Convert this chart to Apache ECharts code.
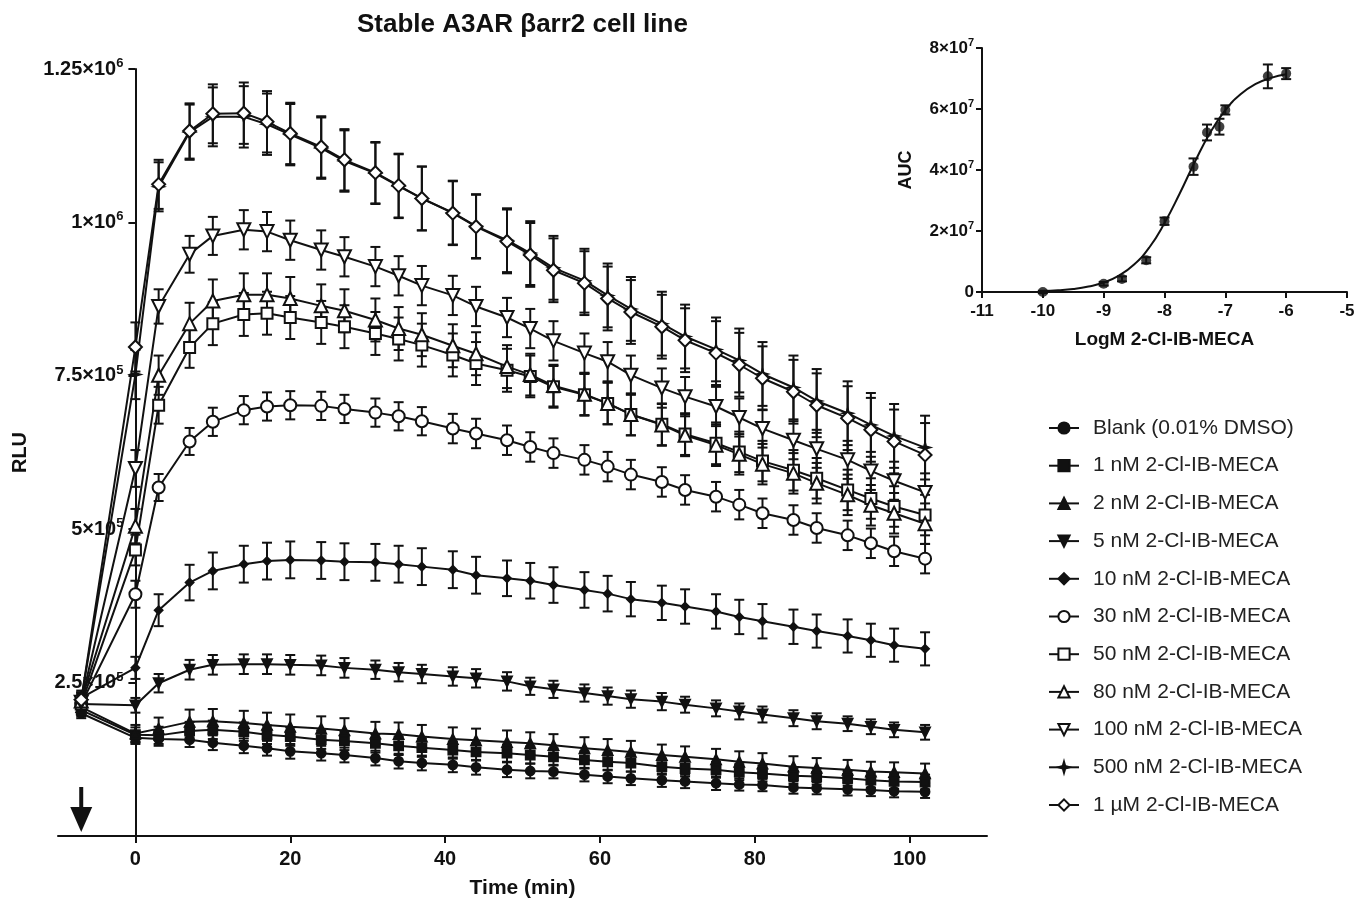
<!DOCTYPE html>
<html><head><meta charset="utf-8">
<script src="https://cdn.jsdelivr.net/npm/echarts@6/dist/echarts.min.js"></script>
<style>html,body{margin:0;padding:0;background:#fff}#c{width:1357px;height:903px}</style>
</head><body><div id="c"></div>
<script>
// ---------- Main kinetic chart data (RLU) ----------
const times = [-7, 0, 3, 7, 10, 14, 17, 20, 24, 27, 31, 34, 37, 41, 44, 48, 51, 54, 58, 61, 64, 68, 71, 75, 78, 81, 85, 88, 92, 95, 98, 102];

const blank  = [200e3,160e3,158e3,157e3,152e3,147e3,143e3,138e3,135e3,132e3,127e3,122e3,119e3,116e3,112e3,108e3,106e3,105e3,100e3,97e3,94e3,91e3,89e3,86e3,84e3,83e3,79e3,78e3,76e3,75e3,73e3,72e3];
const nM1    = [205e3,165e3,164e3,171e3,173e3,170e3,165e3,162e3,157e3,155e3,151e3,147e3,144e3,140e3,137e3,135e3,132e3,129e3,124e3,121e3,119e3,113e3,110e3,108e3,104e3,102e3,98e3,97e3,94e3,91e3,89e3,88e3];
const nM2    = [210e3,167e3,175e3,186e3,187e3,184e3,181e3,178e3,175e3,172e3,167e3,166e3,162e3,158e3,156e3,153e3,151e3,148e3,143e3,140e3,137e3,132e3,129e3,125e3,121e3,118e3,113e3,111e3,108e3,105e3,104e3,102e3];
const nM5    = [215e3,213e3,249e3,271e3,279e3,280e3,280e3,279e3,278e3,274e3,271e3,267e3,264e3,260e3,257e3,252e3,244e3,239e3,233e3,228e3,223e3,219e3,214e3,208e3,203e3,198e3,192e3,187e3,183e3,178e3,173e3,169e3];
const nM10   = [225e3,274e3,368e3,413e3,432e3,443e3,448e3,450e3,449e3,447e3,446e3,443e3,439e3,434e3,425e3,420e3,416e3,409e3,401e3,395e3,386e3,380e3,374e3,366e3,357e3,350e3,341e3,334e3,326e3,319e3,311e3,305e3];
const nM30   = [215e3,394e3,568e3,643e3,675e3,694e3,700e3,702e3,701e3,696e3,690e3,684e3,676e3,664e3,656e3,645e3,634e3,624e3,613e3,602e3,589e3,577e3,564e3,553e3,540e3,526e3,515e3,502e3,490e3,477e3,464e3,452e3];
const nM50   = [215e3,466e3,702e3,796e3,835e3,850e3,852e3,845e3,837e3,830e3,819e3,810e3,800e3,784e3,770e3,759e3,749e3,732e3,719e3,705e3,687e3,671e3,655e3,640e3,626e3,611e3,596e3,583e3,564e3,550e3,537e3,523e3];
const nM80   = [220e3,505e3,751e3,835e3,872e3,882e3,882e3,876e3,864e3,856e3,841e3,827e3,817e3,799e3,786e3,765e3,752e3,734e3,720e3,705e3,687e3,670e3,653e3,637e3,622e3,606e3,591e3,575e3,556e3,539e3,526e3,509e3];
const nM100  = [218e3,599e3,863e3,948e3,978e3,988e3,985e3,971e3,955e3,944e3,928e3,913e3,897e3,881e3,863e3,845e3,827e3,807e3,787e3,773e3,751e3,730e3,716e3,700e3,682e3,664e3,645e3,631e3,613e3,595e3,579e3,560e3];
const nM500  = [222e3,752e3,1058e3,1147e3,1172e3,1172e3,1160e3,1143e3,1121e3,1100e3,1080e3,1059e3,1039e3,1016e3,994e3,971e3,950e3,926e3,905e3,881e3,859e3,835e3,814e3,793e3,775e3,753e3,731e3,709e3,689e3,670e3,652e3,633e3];
const uM1    = [222e3,797e3,1062e3,1149e3,1177e3,1178e3,1164e3,1145e3,1123e3,1102e3,1081e3,1060e3,1039e3,1015e3,993e3,969e3,947e3,922e3,901e3,876e3,854e3,830e3,808e3,787e3,768e3,746e3,724e3,702e3,681e3,662e3,643e3,621e3];

// SEM (error bar half-lengths)
const errBlank = [8e3,10e3,11e3,12e3,12e3,12e3,12e3,12e3,12e3,12e3,12e3,12e3,12e3,12e3,12e3,12e3,12e3,11e3,11e3,11e3,11e3,11e3,11e3,11e3,10e3,10e3,10e3,10e3,10e3,10e3,10e3,10e3];
const err1     = [10e3,12e3,14e3,15e3,15e3,15e3,15e3,15e3,15e3,15e3,15e3,15e3,15e3,14e3,14e3,14e3,14e3,14e3,14e3,14e3,14e3,13e3,13e3,13e3,13e3,13e3,13e3,13e3,12e3,12e3,12e3,12e3];
const err2     = [12e3,14e3,18e3,20e3,20e3,20e3,20e3,20e3,20e3,20e3,19e3,19e3,19e3,19e3,19e3,19e3,18e3,18e3,18e3,18e3,18e3,17e3,17e3,17e3,17e3,17e3,17e3,16e3,16e3,16e3,16e3,16e3];
const err5     = [10e3,12e3,15e3,16e3,16e3,16e3,16e3,16e3,16e3,16e3,15e3,15e3,15e3,15e3,15e3,15e3,14e3,14e3,14e3,14e3,14e3,14e3,13e3,13e3,13e3,13e3,13e3,13e3,12e3,12e3,12e3,12e3];
const err10    = [12e3,18e3,26e3,29e3,30e3,30e3,30e3,30e3,30e3,30e3,30e3,30e3,30e3,30e3,30e3,29e3,29e3,29e3,29e3,29e3,28e3,28e3,28e3,28e3,28e3,28e3,28e3,27e3,27e3,27e3,27e3,27e3];
const err30    = [12e3,22e3,22e3,22e3,23e3,23e3,23e3,23e3,23e3,23e3,23e3,23e3,23e3,24e3,24e3,24e3,24e3,24e3,24e3,24e3,24e3,24e3,24e3,24e3,24e3,24e3,24e3,24e3,24e3,24e3,24e3,24e3];
const err50    = [12e3,25e3,30e3,33e3,35e3,35e3,35e3,35e3,35e3,35e3,35e3,35e3,35e3,35e3,35e3,35e3,34e3,34e3,34e3,34e3,34e3,34e3,34e3,34e3,33e3,33e3,33e3,33e3,33e3,33e3,33e3,33e3];
const err80    = [12e3,28e3,32e3,34e3,35e3,35e3,35e3,35e3,35e3,35e3,35e3,35e3,35e3,35e3,35e3,35e3,34e3,34e3,34e3,34e3,34e3,34e3,34e3,34e3,33e3,33e3,33e3,33e3,33e3,33e3,33e3,33e3];
const err100   = [12e3,30e3,28e3,30e3,31e3,32e3,32e3,32e3,32e3,32e3,32e3,32e3,32e3,32e3,32e3,32e3,32e3,32e3,32e3,32e3,32e3,32e3,32e3,32e3,31e3,31e3,31e3,31e3,31e3,31e3,31e3,31e3];
const err500   = [12e3,40e3,40e3,45e3,48e3,50e3,50e3,50e3,50e3,50e3,50e3,52e3,52e3,52e3,52e3,52e3,52e3,52e3,52e3,52e3,52e3,52e3,52e3,52e3,52e3,52e3,52e3,52e3,52e3,52e3,52e3,52e3];
const err1uM   = [12e3,40e3,40e3,45e3,48e3,50e3,50e3,50e3,50e3,50e3,50e3,52e3,52e3,52e3,52e3,52e3,52e3,52e3,52e3,52e3,52e3,52e3,52e3,52e3,52e3,52e3,52e3,52e3,52e3,52e3,52e3,52e3];

const seriesNames = ['Blank (0.01% DMSO)','1 nM 2-Cl-IB-MECA','2 nM 2-Cl-IB-MECA','5 nM 2-Cl-IB-MECA','10 nM 2-Cl-IB-MECA','30 nM 2-Cl-IB-MECA','50 nM 2-Cl-IB-MECA','80 nM 2-Cl-IB-MECA','100 nM 2-Cl-IB-MECA','500 nM 2-Cl-IB-MECA','1 µM 2-Cl-IB-MECA'];
const seriesValues = [blank, nM1, nM2, nM5, nM10, nM30, nM50, nM80, nM100, nM500, uM1];
const seriesErrors = [errBlank, err1, err2, err5, err10, err30, err50, err80, err100, err500, err1uM];

const timeTicks = [0, 20, 40, 60, 80, 100];
const rluTicks = [0, 250000, 500000, 750000, 1000000, 1250000];
const rluTickMant = ['', '2.5', '5', '7.5', '1', '1.25'];
const rluTickExp  = ['', '5', '5', '5', '6', '6'];
const additionTime = [-7];   // arrow marks compound addition

// ---------- Inset concentration-response data ----------
const logConc = [-10, -9, -8.699, -8.301, -8, -7.523, -7.301, -7.097, -7, -6.301, -6];
const aucMean = [0.0, 2.7e6, 4.3e6, 10.4e6, 23.2e6, 41.1e6, 52.3e6, 54.2e6, 59.7e6, 70.7e6, 71.6e6];
const aucErr  = [0.4e6, 0.6e6, 0.8e6, 1.0e6, 1.2e6, 2.7e6, 2.6e6, 2.6e6, 1.5e6, 3.9e6, 1.8e6];
const fitX = [-10, -9.75, -9.5, -9.25, -9, -8.75, -8.5, -8.25, -8, -7.75, -7.5, -7.25, -7, -6.75, -6.5, -6.25, -6];
const fitY = [0.33e6, 0.58e6, 1.0e6, 1.8e6, 3.1e6, 5.4e6, 9.0e6, 14.6e6, 22.6e6, 32.3e6, 42.7e6, 52.2e6, 59.6e6, 64.8e6, 68.2e6, 70.2e6, 71.4e6];
const aucTicks = [0, 2e7, 4e7, 6e7, 8e7];
const aucTickMant = ['0', '2', '4', '6', '8'];

// ---------- styles ----------
const FONT = '"Liberation Sans", Arial, Helvetica, sans-serif';
const INK = '#111';
const STAR = 'path://M0,-10 L2.2,-2.2 L10,0 L2.2,2.2 L0,10 L-2.2,2.2 L-10,0 L-2.2,-2.2 Z';
const markerStyles = [
  {symbol:'circle', size:9, rot:0},
  {symbol:'rect', size:9, rot:0},
  {symbol:'triangle', size:10, rot:0},
  {symbol:'triangle', size:10, rot:180},
  {symbol:'diamond', size:8, rot:0},
  {symbol:'emptyCircle', size:12, rot:0},
  {symbol:'emptyRect', size:11, rot:0},
  {symbol:'emptyTriangle', size:13, rot:0},
  {symbol:'emptyTriangle', size:13, rot:180},
  {symbol:STAR, size:10, rot:0},
  {symbol:'emptyDiamond', size:13, rot:0}
];

// main grid geometry: y axis drawn at time 0
const GRID_LEFT = 58, GRID_RIGHT = 370, X_MIN = -10, X_MAX = 110;
const Y_AXIS_SHIFT = -(0 - X_MIN) / (X_MAX - X_MIN) * (1357 - GRID_LEFT - GRID_RIGHT);

function errRender(half) {
  return function (params, api) {
    const x = api.value(0), y = api.value(1), e = api.value(2);
    const hi = api.coord([x, y + e]), lo = api.coord([x, y - e]);
    const st = {stroke: INK, lineWidth: 2};
    return {type:'group', children:[
      {type:'line', shape:{x1:hi[0], y1:hi[1], x2:lo[0], y2:lo[1]}, style:st},
      {type:'line', shape:{x1:hi[0]-half, y1:hi[1], x2:hi[0]+half, y2:hi[1]}, style:st},
      {type:'line', shape:{x1:lo[0]-half, y1:lo[1], x2:lo[0]+half, y2:lo[1]}, style:st}
    ]};
  };
}

const series = [];
seriesNames.forEach((name, i) => {
  series.push({
    type:'custom', name:'err'+i, xAxisIndex:0, yAxisIndex:0, z:2, silent:true,
    renderItem: errRender(5),
    data: times.map((t, k) => [t, seriesValues[i][k], seriesErrors[i][k]])
  });
});
seriesNames.forEach((name, i) => {
  const m = markerStyles[i];
  series.push({
    type:'line', name, xAxisIndex:0, yAxisIndex:0, z:3,
    symbol:m.symbol, symbolSize:m.size, symbolRotate:m.rot, showAllSymbol:true,
    lineStyle:{color:INK, width:2},
    itemStyle:{color:INK, borderColor:INK, borderWidth:1.8},
    data: times.map((t, k) => [t, seriesValues[i][k]])
  });
});
// arrow at addition time
series.push({
  type:'custom', xAxisIndex:0, yAxisIndex:0, silent:true, z:4,
  renderItem: function (params, api) {
    const p = api.coord([api.value(0), 0]);
    const tipY = p[1] - 4;
    return {type:'group', children:[
      {type:'rect', shape:{x:p[0]-2, y:tipY-45, width:4, height:22}, style:{fill:INK}},
      {type:'polygon', shape:{points:[[p[0]-11, tipY-25],[p[0]+11, tipY-25],[p[0], tipY]]}, style:{fill:INK}}
    ]};
  },
  data: additionTime.map(t => [t])
});
// inset
series.push({
  type:'line', xAxisIndex:1, yAxisIndex:1, smooth:true, showSymbol:false, z:2,
  lineStyle:{color:INK, width:2}, data: fitX.map((x, k) => [x, fitY[k]])
});
series.push({
  type:'custom', xAxisIndex:1, yAxisIndex:1, z:3, silent:true, renderItem: errRender(5),
  data: logConc.map((x, k) => [x, aucMean[k], aucErr[k]])
});
series.push({
  type:'scatter', xAxisIndex:1, yAxisIndex:1, z:4, symbol:'circle', symbolSize:10,
  itemStyle:{color:INK}, data: logConc.map((x, k) => [x, aucMean[k]])
});

const chart = echarts.init(document.getElementById('c'), null, {renderer:'canvas'});
chart.setOption({
  animation:false,
  backgroundColor:'#fff',
  textStyle:{fontFamily:FONT, color:INK},
  title:{text:'Stable A3AR βarr2 cell line', left:352, top:7,
    textStyle:{fontFamily:FONT, fontSize:26, fontWeight:'bold', color:INK}},
  legend:{
    data: seriesNames, orient:'vertical', left:1043, top:412,
    itemWidth:30, itemHeight:14, itemGap:15.7, selectedMode:false,
    textStyle:{fontFamily:FONT, fontSize:21, lineHeight:22, color:'#222', padding:[0,0,0,9]}
  },
  grid:[
    {left:GRID_LEFT, right:GRID_RIGHT, top:69, bottom:67, outerBoundsMode:'none'},
    {left:982, right:10, top:48, bottom:611, outerBoundsMode:'none'}
  ],
  xAxis:[
    {gridIndex:0, type:'value', min:X_MIN, max:X_MAX,
      name:'Time (min)', nameLocation:'middle', nameGap:42,
      nameTextStyle:{fontFamily:FONT, fontSize:21, fontWeight:'bold', color:INK},
      axisLine:{onZero:false, lineStyle:{color:INK, width:2}},
      axisTick:{customValues:timeTicks, length:7, lineStyle:{color:INK, width:2}},
      axisLabel:{customValues:timeTicks, margin:13, fontFamily:FONT, fontSize:20, fontWeight:'bold', color:INK},
      splitLine:{show:false}},
    {gridIndex:1, type:'value', min:-11, max:-5, interval:1,
      name:'LogM 2-Cl-IB-MECA', nameLocation:'middle', nameGap:38,
      nameTextStyle:{fontFamily:FONT, fontSize:19, fontWeight:'bold', color:INK},
      axisLine:{onZero:false, lineStyle:{color:INK, width:2}},
      axisTick:{length:6, lineStyle:{color:INK, width:2}},
      axisLabel:{margin:11, fontFamily:FONT, fontSize:17, fontWeight:'bold', color:INK},
      splitLine:{show:false}}
  ],
  yAxis:[
    {gridIndex:0, type:'value', min:0, max:1250000, interval:250000, offset:Y_AXIS_SHIFT,
      name:'RLU', nameLocation:'middle', nameGap:105, nameRotate:90,
      nameTextStyle:{fontFamily:FONT, fontSize:20, fontWeight:'bold', color:INK},
      axisLine:{show:true, onZero:false, lineStyle:{color:INK, width:2}},
      axisTick:{show:true, length:7, lineStyle:{color:INK, width:2}},
      axisLabel:{margin:12, color:INK,
        formatter: v => { const k = rluTicks.indexOf(v); if (k <= 0) return ''; return '{b|' + rluTickMant[k] + '×10}{s|' + rluTickExp[k] + '}'; },
        rich:{
          b:{fontFamily:FONT, fontSize:20, fontWeight:'bold', color:INK, padding:[2,0,2,0]},
          s:{fontFamily:FONT, fontSize:13, fontWeight:'bold', color:INK, verticalAlign:'top'}
        }},
      splitLine:{show:false}},
    {gridIndex:1, type:'value', min:0, max:8e7, interval:2e7,
      name:'AUC', nameLocation:'middle', nameGap:67, nameRotate:90,
      nameTextStyle:{fontFamily:FONT, fontSize:18, fontWeight:'bold', color:INK},
      axisLine:{show:true, onZero:false, lineStyle:{color:INK, width:2}},
      axisTick:{show:true, length:6, lineStyle:{color:INK, width:2}},
      axisLabel:{margin:8, color:INK,
        formatter: v => { const k = aucTicks.indexOf(v); if (k < 0) return ''; if (k === 0) return '{b|0}'; return '{b|' + aucTickMant[k] + '×10}{s|7}'; },
        rich:{
          b:{fontFamily:FONT, fontSize:17, fontWeight:'bold', color:INK, padding:[2,0,2,0]},
          s:{fontFamily:FONT, fontSize:11, fontWeight:'bold', color:INK, verticalAlign:'top'}
        }},
      splitLine:{show:false}}
  ],
  series
});
</script></body></html>
